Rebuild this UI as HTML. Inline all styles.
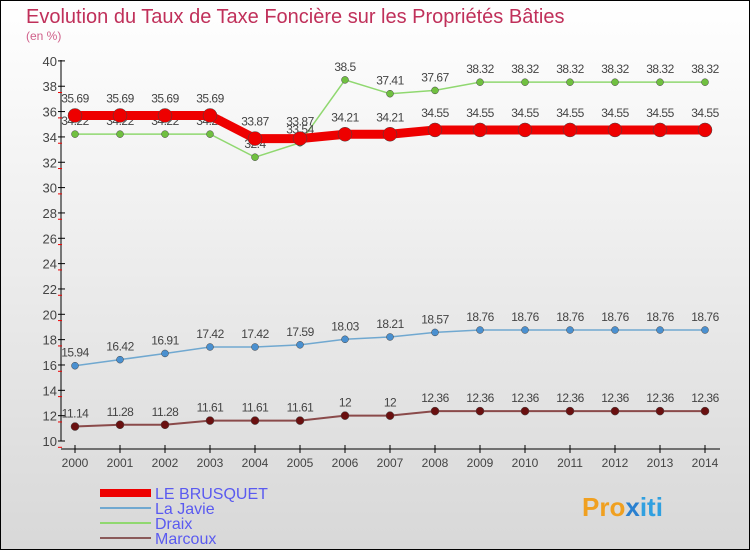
<!DOCTYPE html>
<html><head><meta charset="utf-8"><style>
body{margin:0}
#c{width:750px;height:550px;position:relative;font-family:"Liberation Sans",sans-serif}
</style></head><body>
<div id="c">
<svg id="s" width="750" height="550" xmlns="http://www.w3.org/2000/svg">
<defs><linearGradient id="bg" x1="0" y1="0" x2="0" y2="1"><stop offset="0" stop-color="#ffffff"/><stop offset="1" stop-color="#d8d8d8"/></linearGradient></defs>
<rect x="0.5" y="0.5" width="749" height="549" fill="url(#bg)" stroke="#000"/>
<text x="26" y="23" font-size="20" fill="#c0305a">Evolution du Taux de Taxe Foncière sur les Propriétés Bâties</text>
<text x="26" y="40" font-size="12" fill="#d0608a">(en %)</text>
<g id="axes"></g><g id="series"></g><g id="legend"></g>
<text x="582" y="516" font-size="26" font-weight="bold" fill="#f0a020">Pro<tspan fill="#2a80d0">x</tspan><tspan fill="#30a0e0">iti</tspan></text>
</svg>
</div>
<script>
const years=[2000,2001,2002,2003,2004,2005,2006,2007,2008,2009,2010,2011,2012,2013,2014];
const yTicks=[10,12,14,16,18,20,22,24,26,28,30,32,34,36,38,40];
const brusquet=[35.69,35.69,35.69,35.69,33.87,33.87,34.21,34.21,34.55,34.55,34.55,34.55,34.55,34.55,34.55];
const javie=[15.94,16.42,16.91,17.42,17.42,17.59,18.03,18.21,18.57,18.76,18.76,18.76,18.76,18.76,18.76];
const draix=[34.22,34.22,34.22,34.22,32.4,33.54,38.5,37.41,37.67,38.32,38.32,38.32,38.32,38.32,38.32];
const marcoux=[11.14,11.28,11.28,11.61,11.61,11.61,12,12,12.36,12.36,12.36,12.36,12.36,12.36,12.36];
const NS="http://www.w3.org/2000/svg";
const X=i=>75+i*45, Y=v=>441-(v-10)*12.67;
function mk(t,a,p){const e=document.createElementNS(NS,t);for(const k in a)e.setAttribute(k,a[k]);p.appendChild(e);return e;}
const ax=document.getElementById('axes');
let l=mk('line',{x1:61,y1:60,x2:61,y2:441,stroke:'#000'},ax);

l=mk('line',{x1:61,y1:449,x2:720,y2:449,stroke:'#000'},ax);

yTicks.forEach(v=>{const y=Y(v);
 if(v%2===0&&v<40){mk('line',{x1:58,y1:y+6.3,x2:62,y2:y+6.3,stroke:'#e00'},ax);}
 mk('line',{x1:58,y1:y,x2:65,y2:y,stroke:'#000'},ax);
 const t=mk('text',{x:57,y:y+5,'font-size':13,'text-anchor':'end',fill:'#444'},ax);t.textContent=v;
 });
years.forEach((yr,i)=>{mk('line',{x1:X(i),y1:445,x2:X(i),y2:453,stroke:'#000'},ax);
 const t=mk('text',{x:X(i),y:467,'font-size':12,'text-anchor':'middle',fill:'#444'},ax);t.textContent=yr;
 });
const sg=document.getElementById('series');
function series(name,data,color,w,r,dot,labDy){
 const g=mk('g',{},sg);
 mk('polyline',{points:data.map((v,i)=>X(i)+','+Y(v)).join(' '),fill:'none',stroke:color,'stroke-width':w},g);
 data.forEach((v,i)=>{const c=mk('circle',{cx:X(i),cy:Y(v),r:r,fill:dot,stroke:'#444','stroke-width':0.5},g);
  
  const t=mk('text',{x:X(i),y:Y(v)+labDy,'font-size':12,'text-anchor':'middle',fill:'#444','letter-spacing':'-0.5'},g);t.textContent=v;
  });
}
series('series-marcoux',marcoux,'#8a4a4a',2,4,'#6a1010',-9);
series('series-la-javie',javie,'#70a8d0',1.5,3.5,'#4a90d0',-9);
series('series-draix',draix,'#90d870',1.5,3.5,'#70c040',-9);
series('series-le-brusquet',brusquet,'#ee0000',9,7,'#ee0000',-13);
const lg=document.getElementById('legend');
[['LE BRUSQUET','#ee0000',8],['La Javie','#70a8d0',2],['Draix','#90d870',2],['Marcoux','#8a5a5a',2]].forEach((e,i)=>{
 const y=493+i*15;const g=mk('g',{},lg);
 mk('line',{x1:100,y1:y,x2:151,y2:y,stroke:e[1],'stroke-width':e[2]},g);
 const t=mk('text',{x:155,y:y+6,'font-size':16,fill:'#5a5af0'},g);t.textContent=e[0];});
</script>
</body></html>
